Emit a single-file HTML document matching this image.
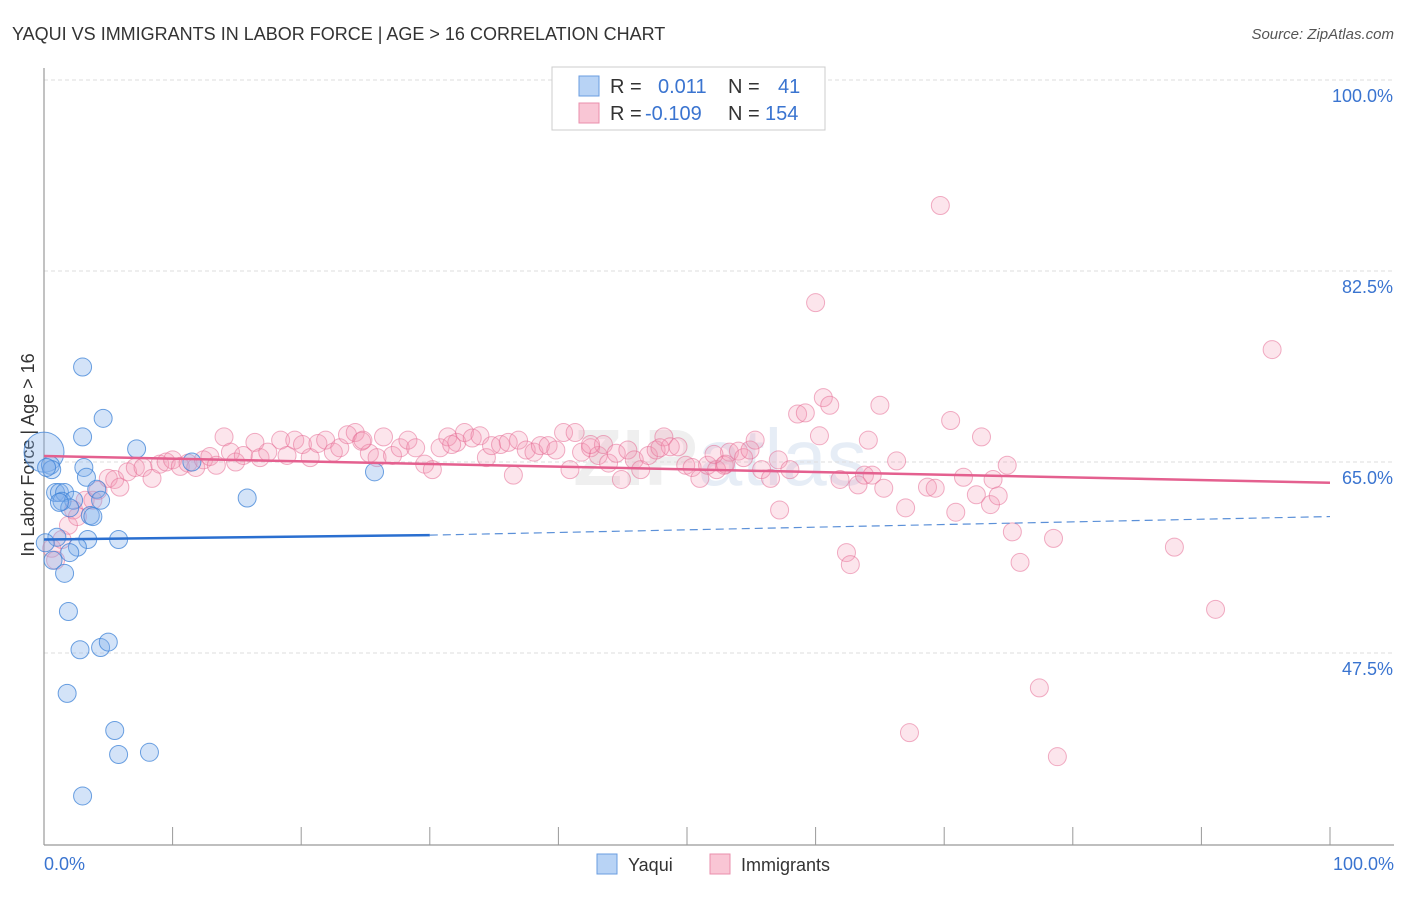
<!DOCTYPE html>
<html><head><meta charset="utf-8">
<style>
body{margin:0;background:#fff;font-family:"Liberation Sans",sans-serif;}
svg text{font-family:"Liberation Sans",sans-serif;}
</style></head>
<body>
<svg id="chart" width="1406" height="892" xmlns="http://www.w3.org/2000/svg">
<text x="12" y="40" font-size="18" fill="#333">YAQUI VS IMMIGRANTS IN LABOR FORCE | AGE &gt; 16 CORRELATION CHART</text>
<text x="1394" y="39" font-size="15" fill="#555" text-anchor="end" font-style="italic">Source: ZipAtlas.com</text>
<text x="720" y="485" font-size="80" fill="#efefef" text-anchor="middle" font-weight="bold">ZIP<tspan fill="#e6edf6" font-weight="normal">atlas</tspan></text>
<g id="grid"></g>
<line x1="44" y1="68" x2="44" y2="845" stroke="#999" stroke-width="1.2"/>
<line x1="44" y1="845" x2="1394" y2="845" stroke="#999" stroke-width="1.2"/>
<text x="28" y="455" font-size="18" fill="#333" text-anchor="middle" transform="rotate(-90 28 455)" dy="6">In Labor Force | Age &gt; 16</text>
<text x="44" y="870" font-size="18" fill="#3a74d0">0.0%</text>
<text x="1394" y="870" font-size="18" fill="#3a74d0" text-anchor="end">100.0%</text>
<g id="points"></g>
<g id="lines"></g>
<g>
<rect x="552" y="67" width="273" height="63" fill="#fff" stroke="#ccc"/>
<rect x="579" y="76" width="20" height="20" fill="#b8d3f5" stroke="#6a9de0"/>
<rect x="579" y="103" width="20" height="20" fill="#f9c6d5" stroke="#ea8fac"/>
<text x="610" y="93" font-size="20" fill="#333">R = <tspan x="658" fill="#3a74d0">0.011</tspan><tspan x="728" fill="#333">N = </tspan><tspan x="778" fill="#3a74d0">41</tspan></text>
<text x="610" y="120" font-size="20" fill="#333">R = <tspan x="645" fill="#3a74d0">-0.109</tspan><tspan x="728" fill="#333">N = </tspan><tspan x="765" fill="#3a74d0">154</tspan></text>
</g>
<g>
<rect x="597" y="854" width="20" height="20" fill="#b8d3f5" stroke="#6a9de0"/>
<text x="628" y="871" font-size="18" fill="#333">Yaqui</text>
<rect x="710" y="854" width="20" height="20" fill="#f9c6d5" stroke="#ea8fac"/>
<text x="741" y="871" font-size="18" fill="#333">Immigrants</text>
</g>
</svg>
<script>
const yTicks=[100,82.5,65,47.5];
const yTickLabels=["100.0%","82.5%","65.0%","47.5%"];
const xTicks=[0,10,20,30,40,50,60,70,80,90,100];
const yaquiX=[0,0.5,0.6,3.0,4.6,3.0,7.2,3.1,3.3,0.9,1.2,1.6,1.4,2.3,2.0,3.6,4.1,15.8,11.5,25.7,1.0,3.4,5.8,2.6,2.0,0.7,1.6,1.9,2.8,4.4,5.0,1.8,5.5,5.8,8.2,3.0,0.2,1.2,0.1,3.8,4.4];
const yaquiY=[65.9,64.7,64.3,73.7,69.0,67.3,66.2,64.5,63.6,62.2,62.2,62.2,61.4,61.5,60.8,60.1,62.5,61.7,65.0,64.1,58.1,57.9,57.9,57.2,56.7,56.0,54.8,51.3,47.8,48.0,48.5,43.8,40.4,38.2,38.4,34.4,64.5,61.3,57.6,60.0,61.5];
const immX=[0.6,0.9,1.4,1.9,2.3,2.6,3.2,3.8,4.2,5.0,5.5,5.9,6.5,7.1,7.7,8.4,9.0,9.5,10.0,10.6,11.2,11.8,12.4,12.9,13.4,14.0,14.5,14.9,15.5,16.4,16.8,17.4,18.4,18.9,19.5,20.1,20.7,21.3,21.9,22.5,23.0,23.6,24.2,24.7,25.3,25.9,26.4,27.1,27.7,28.3,28.9,29.6,30.2,30.8,31.4,32.1,32.7,33.3,33.9,34.4,34.8,35.5,36.1,36.5,36.9,37.5,38.1,38.6,39.2,39.8,40.4,40.9,41.3,41.8,42.5,43.1,43.5,43.9,44.5,44.9,45.4,45.9,46.4,47.0,47.6,48.2,48.7,49.3,49.9,50.4,51.0,51.6,52.3,52.9,53.3,54.0,54.4,54.9,55.3,55.8,56.5,57.1,57.2,58.0,58.6,59.2,60.0,60.3,60.6,61.1,61.9,62.4,62.7,63.3,63.8,64.1,64.4,65.0,65.3,66.3,67.0,67.3,68.7,69.3,69.7,70.5,70.9,71.5,72.5,72.9,73.6,73.8,74.2,74.9,75.3,75.9,77.4,78.5,78.8,87.9,91.1,95.5,53.0,52.1,47.9,42.5,31.7,24.8];
const immY=[57.1,56.0,57.9,59.2,60.6,60.0,61.5,61.5,62.4,63.5,63.4,62.7,64.1,64.5,64.5,63.5,64.8,65.0,65.2,64.6,64.9,64.5,65.2,65.5,64.7,67.3,65.9,65.0,65.6,66.8,65.4,65.9,67.0,65.6,67.0,66.6,65.4,66.7,67.0,65.9,66.3,67.5,67.7,66.9,65.8,65.4,67.3,65.6,66.3,67.0,66.3,64.8,64.3,66.3,67.3,66.8,67.7,67.2,67.4,65.4,66.5,66.6,66.8,63.8,67.0,66.1,65.9,66.5,66.5,66.1,67.7,64.3,67.7,65.9,66.3,65.6,66.6,64.9,65.8,63.4,66.1,65.2,64.3,65.6,66.1,67.3,66.4,66.4,64.7,64.5,63.5,64.7,64.3,64.7,65.9,66.0,65.4,66.1,67.0,64.3,63.5,65.2,60.6,64.3,69.4,69.5,79.6,67.4,70.9,70.2,63.4,56.7,55.6,62.9,63.8,67.0,63.8,70.2,62.6,65.1,60.8,40.2,62.7,62.6,88.5,68.8,60.4,63.6,62.0,67.3,61.1,63.4,61.9,64.7,58.6,55.8,44.3,58.0,38.0,57.2,51.5,75.3,64.8,65.7,66.3,66.6,66.6,67.0];
const yaquiTrendX=[0,30,100];
const yaquiTrendY=[57.9,58.3,60.0];
const immTrendX=[0,100];
const immTrendY=[65.55,63.1];

const NS="http://www.w3.org/2000/svg";
const xs=v=>44+v*12.86;
const ys=v=>462-(v-65)*10.914;
function mk(tag,attrs,parent){const e=document.createElementNS(NS,tag);for(const k in attrs)e.setAttribute(k,attrs[k]);parent.appendChild(e);return e;}
const grid=document.getElementById('grid');
yTicks.forEach((t,i)=>{
  const l=mk('line',{x1:44,x2:1393,y1:ys(t),y2:ys(t),stroke:'#ddd','stroke-dasharray':'4,3'},grid);
  
  
  const tx=mk('text',{x:1393,y:ys(t)+22,'font-size':18,fill:'#3a74d0','text-anchor':'end'},grid);
  tx.textContent=yTickLabels[i];
  
  
});
xTicks.forEach(t=>{
  const l=mk('line',{x1:xs(t),x2:xs(t),y1:827,y2:845,stroke:'#999'},grid);
  
  
});
const pts=document.getElementById('points');
immX.forEach((x,i)=>{
  const c=mk('circle',{cx:xs(x),cy:ys(immY[i]),r:9,fill:'rgba(244,150,180,0.25)',stroke:'rgba(230,110,150,0.55)','stroke-width':1},pts);
  
  
});
yaquiX.forEach((x,i)=>{
  const c=mk('circle',{cx:xs(x),cy:ys(yaquiY[i]),r:i===0?20:9,fill:'rgba(130,175,235,0.35)',stroke:'rgba(60,130,215,0.75)','stroke-width':1},pts);
  
  
});
const ln=document.getElementById('lines');
const p=mk('line',{x1:xs(immTrendX[0]),y1:ys(immTrendY[0]),x2:xs(immTrendX[1]),y2:ys(immTrendY[1]),stroke:'#e4608f','stroke-width':2.5},ln);


const b1=mk('line',{x1:xs(yaquiTrendX[0]),y1:ys(yaquiTrendY[0]),x2:xs(yaquiTrendX[1]),y2:ys(yaquiTrendY[1]),stroke:'#2a6fd0','stroke-width':2.5},ln);


const b2=mk('line',{x1:xs(yaquiTrendX[1]),y1:ys(yaquiTrendY[1]),x2:xs(yaquiTrendX[2]),y2:ys(yaquiTrendY[2]),stroke:'#5b90d8','stroke-width':1.2,'stroke-dasharray':'8,5'},ln);


</script>
</body></html>
